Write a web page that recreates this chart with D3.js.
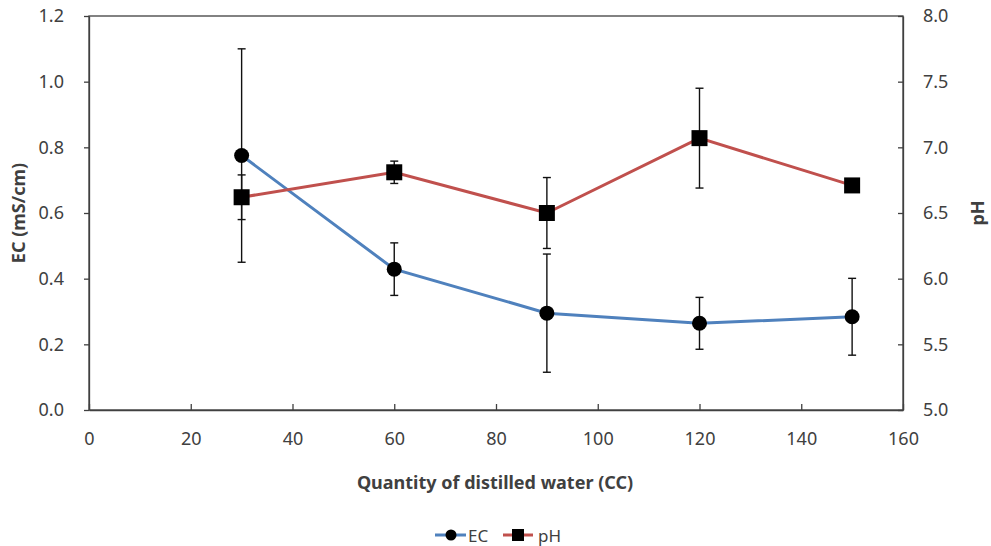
<!DOCTYPE html>
<html>
<head>
<meta charset="utf-8">
<script src="https://cdn.jsdelivr.net/npm/d3@7"></script>
<style>
  body { margin: 0; background: #fff; }
  svg text { font-family: "Noto Sans", "DejaVu Sans", sans-serif; fill: #404040; }
</style>
</head>
<body>
<svg id="chart" width="991" height="546"></svg>
<script>
// Water quantity (CC) and measurements
const water = [30, 60, 90, 120, 150];
const ecMean = [0.775, 0.429, 0.295, 0.264, 0.284];
const ecErr  = [0.325, 0.080, 0.180, 0.079, 0.117];
const phMean = [6.62, 6.81, 6.50, 7.07, 6.71];
const phErr  = [0.17, 0.085, 0.27, 0.38, 0];

const xTicks = [0, 20, 40, 60, 80, 100, 120, 140, 160];
const ecTicks = [0, 0.2, 0.4, 0.6, 0.8, 1.0, 1.2];
const phTicks = [5.0, 5.5, 6.0, 6.5, 7.0, 7.5, 8.0];

const svg = d3.select("#chart");
const m = { left: 89, right: 903, top: 16, bottom: 410 };
const axisColor = "#404040";
const blue = "#4F81BD", red = "#C0504D";

const x = d3.scaleLinear().domain([0, 160]).range([m.left, m.right]);
const yEC = d3.scaleLinear().domain([0, 1.2]).range([m.bottom, m.top]);
const yPH = d3.scaleLinear().domain([5, 8]).range([m.bottom, m.top]);

// Plot frame
svg.append("rect")
  .attr("x", m.left).attr("y", m.top)
  .attr("width", m.right - m.left).attr("height", m.bottom - m.top)
  .attr("fill", "none").attr("stroke", axisColor).attr("stroke-width", 1.3);

// Bottom axis (ticks inward)
const gx = svg.append("g").attr("transform", `translate(0,${m.bottom})`)
  .call(d3.axisBottom(x).tickValues(xTicks).tickSizeInner(-6).tickSizeOuter(0).tickPadding(22).tickFormat(d3.format("d")));
// Left axis (ticks outward)
const gl = svg.append("g").attr("transform", `translate(${m.left},0)`)
  .call(d3.axisLeft(yEC).tickValues(ecTicks).tickSizeInner(5).tickSizeOuter(0).tickPadding(20).tickFormat(d3.format(".1f")));
// Right axis (ticks inward)
const gr = svg.append("g").attr("transform", `translate(${m.right},0)`)
  .call(d3.axisRight(yPH).tickValues(phTicks).tickSizeInner(-5).tickSizeOuter(0).tickPadding(20).tickFormat(d3.format(".1f")));

[gx, gl, gr].forEach(g => {
  g.select(".domain").attr("stroke", axisColor).attr("stroke-width", 1.3);
  g.selectAll(".tick line").attr("stroke", axisColor).attr("stroke-width", 1.3);
  g.selectAll(".tick text").attr("font-size", 18).attr("fill", "#404040")
    .style("font-family", "'Noto Sans', sans-serif");
});

// Axis titles
svg.append("text").attr("x", 495).attr("y", 489).attr("text-anchor", "middle")
  .attr("font-size", 18).attr("font-weight", "bold").attr("fill", "#1a1a1a")
  .text("Quantity of distilled water (CC)");
svg.append("text").attr("transform", `translate(25,${(m.top + m.bottom) / 2}) rotate(-90)`)
  .attr("text-anchor", "middle").attr("font-size", 18).attr("font-weight", "bold").attr("fill", "#1a1a1a")
  .text("EC (mS/cm)");
svg.append("text").attr("transform", `translate(984,${(m.top + m.bottom) / 2}) rotate(-90)`)
  .attr("text-anchor", "middle").attr("font-size", 18).attr("font-weight", "bold").attr("fill", "#1a1a1a")
  .text("pH");

const ecData = water.map((w, i) => ({ x: w, y: ecMean[i], e: ecErr[i] }));
const phData = water.map((w, i) => ({ x: w, y: phMean[i], e: phErr[i] }));

// Error bars
function errorBars(data, y) {
  const g = svg.append("g").attr("stroke", "#111").attr("stroke-width", 1.4);
  data.filter(d => d.e > 0).forEach(d => {
    const cx = x(d.x), t = y(d.y + d.e), b = y(d.y - d.e);
    g.append("line").attr("x1", cx).attr("x2", cx).attr("y1", t).attr("y2", b);
    g.append("line").attr("x1", cx - 4).attr("x2", cx + 4).attr("y1", t).attr("y2", t);
    g.append("line").attr("x1", cx - 4).attr("x2", cx + 4).attr("y1", b).attr("y2", b);
  });
}
errorBars(ecData, yEC);
errorBars(phData, yPH);

// Lines
svg.append("path").datum(ecData)
  .attr("fill", "none").attr("stroke", blue).attr("stroke-width", 3)
  .attr("d", d3.line().x(d => x(d.x)).y(d => yEC(d.y)));
svg.append("path").datum(phData)
  .attr("fill", "none").attr("stroke", red).attr("stroke-width", 3)
  .attr("d", d3.line().x(d => x(d.x)).y(d => yPH(d.y)));

// Markers
svg.append("g").selectAll("circle").data(ecData).join("circle")
  .attr("cx", d => x(d.x)).attr("cy", d => yEC(d.y)).attr("r", 7.5).attr("fill", "#000");
svg.append("g").selectAll("rect").data(phData).join("rect")
  .attr("x", d => x(d.x) - 8).attr("y", d => yPH(d.y) - 8)
  .attr("width", 16).attr("height", 16).attr("fill", "#000");

// Legend
const lg = svg.append("g");
lg.append("line").attr("x1", 435).attr("x2", 466).attr("y1", 535).attr("y2", 535).attr("stroke", blue).attr("stroke-width", 3);
lg.append("circle").attr("cx", 451).attr("cy", 535).attr("r", 5.5).attr("fill", "#000");
lg.append("text").attr("x", 468).attr("y", 541.5).attr("font-size", 17).text("EC");
lg.append("line").attr("x1", 503).attr("x2", 533).attr("y1", 535).attr("y2", 535).attr("stroke", red).attr("stroke-width", 3);
lg.append("rect").attr("x", 512).attr("y", 529).attr("width", 12).attr("height", 12).attr("fill", "#000");
lg.append("text").attr("x", 538).attr("y", 541.5).attr("font-size", 17).text("pH");
</script>
</body>
</html>
